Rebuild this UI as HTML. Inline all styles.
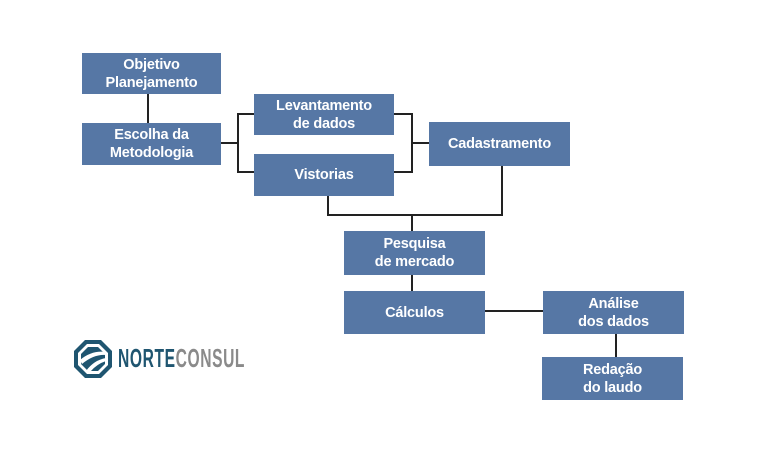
<!DOCTYPE html>
<html><head><meta charset="utf-8"><style>
html,body{margin:0;padding:0;background:#fff;}
body{width:768px;height:453px;position:relative;overflow:hidden;font-family:"Liberation Sans",Arial,sans-serif;}
.b{position:absolute;background:#5677a5;color:#fff;font-weight:bold;font-size:14.5px;line-height:18px;display:flex;align-items:center;justify-content:center;text-align:center;letter-spacing:-0.2px;}
svg{position:absolute;left:0;top:0;}
.logo{position:absolute;left:118px;top:343px;font-size:26px;font-weight:bold;line-height:30px;transform:scaleX(0.6);transform-origin:left top;letter-spacing:1px;}
</style></head><body>
<svg width="768" height="453">
<g stroke="#222" stroke-width="2" fill="none">
<line x1="148" y1="94" x2="148" y2="123"/>
<line x1="221" y1="143" x2="238" y2="143"/>
<polyline points="254,114 238,114 238,172 254,172"/>
<polyline points="394,114 412,114 412,172 394,172"/>
<line x1="412" y1="143" x2="430" y2="143"/>
<polyline points="328,196 328,215 502,215 502,166"/>
<line x1="412" y1="215" x2="412" y2="232"/>
<line x1="412" y1="275" x2="412" y2="291"/>
<line x1="485" y1="311" x2="543" y2="311"/>
<line x1="616" y1="334" x2="616" y2="357"/>
</g>
<g>
<polygon points="85,340 101,340 112,351 112,367 101,378 85,378 74,367 74,351" fill="#1f5570"/>
<polygon points="87,344 99,344 108,353 108,365 99,374 87,374 78,365 78,353" fill="#fff"/>
<polygon points="88,347 98,347 105,354 105,364 98,371 88,371 81,364 81,354" fill="#1f5570"/>
<path d="M80,360 Q92,350 106,352 L106,355 Q94,354 82,364 Z" fill="#fff"/>
<path d="M86,371 Q94,360 106,358 L106,361 Q97,364 91,371 Z" fill="#fff"/>
</g>
</svg>
<div class="b" style="left:82px;top:53px;width:139px;height:41px;">Objetivo<br>Planejamento</div>
<div class="b" style="left:82px;top:123px;width:139px;height:42px;">Escolha da<br>Metodologia</div>
<div class="b" style="left:254px;top:94px;width:140px;height:41px;">Levantamento<br>de dados</div>
<div class="b" style="left:254px;top:154px;width:140px;height:42px;">Vistorias</div>
<div class="b" style="left:429px;top:122px;width:141px;height:44px;">Cadastramento</div>
<div class="b" style="left:344px;top:231px;width:141px;height:44px;">Pesquisa<br>de mercado</div>
<div class="b" style="left:344px;top:291px;width:141px;height:43px;">Cálculos</div>
<div class="b" style="left:543px;top:291px;width:141px;height:43px;">Análise<br>dos dados</div>
<div class="b" style="left:542px;top:357px;width:141px;height:43px;">Redação<br>do laudo</div>
<div class="logo"><span style="color:#1f5570">NORTE</span><span style="color:#8a8a8a">CONSUL</span></div>
</body></html>
